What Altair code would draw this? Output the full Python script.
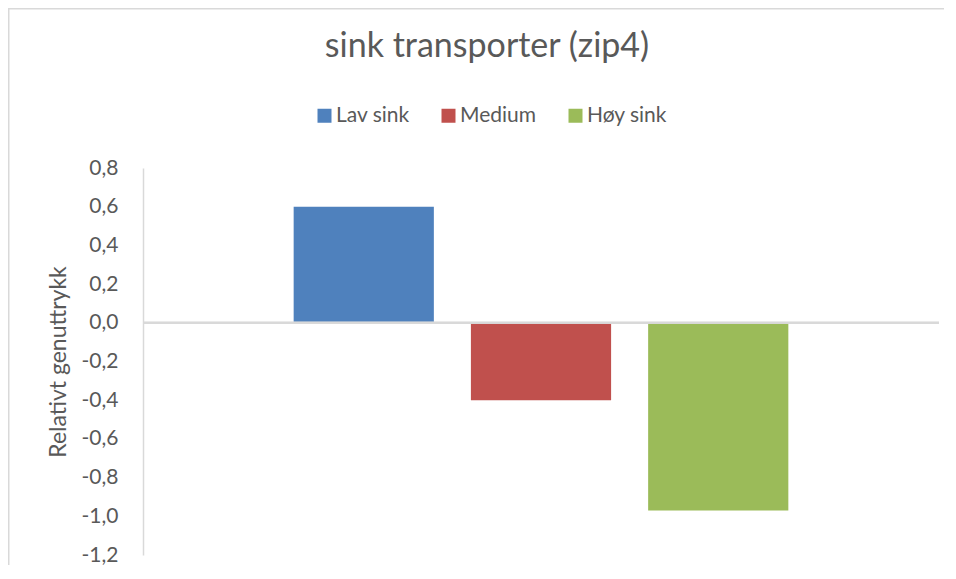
import altair as alt
import pandas as pd

# ---- data ----
series = ["Lav sink", "Medium", "Høy sink"]
values = [0.60, -0.40, -0.97]
colors = ["#4F81BD", "#C0504D", "#9BBB59"]
y_ticks = [-1.2, -1.0, -0.8, -0.6, -0.4, -0.2, 0.0, 0.2, 0.4, 0.6, 0.8]
y_domain = [-1.2, 0.8]
title_text = "sink transporter (zip4)"
y_title = "Relativt genuttrykk"

FONT = "Lato"
TXT = "#595959"
LINE = "#D9D9D9"

df = pd.DataFrame({"serie": series, "verdi": values})
one = pd.DataFrame({"k": [0]})

label_expr = "replace(replace(format(datum.value, '.1f'), '.', ','), '\u2212', '-')"

bars = alt.Chart(df).mark_bar().encode(
    x=alt.X("serie:N", sort=series,
            scale=alt.Scale(domain=series, paddingInner=0.209, paddingOuter=0.85),
            axis=None),
    y=alt.Y("verdi:Q",
            scale=alt.Scale(domain=y_domain, nice=False),
            axis=alt.Axis(values=y_ticks, tickCount=len(y_ticks), labelExpr=label_expr,
                          title=y_title, labelOverlap=False,
                          grid=False, ticks=False, tickSize=0, domain=True,
                          domainColor=LINE, domainWidth=1.5, labelPadding=25,
                          labelFontSize=21, labelColor=TXT, labelFont=FONT,
                          titleFont=FONT, titleFontSize=23, titleColor=TXT,
                          titleFontWeight="normal", titlePadding=11)),
    color=alt.Color("serie:N",
                    scale=alt.Scale(domain=series, range=colors),
                    legend=alt.Legend(title=None, orient="none", legendX=171, legendY=-63,
                                      direction="horizontal", columns=3,
                                      symbolType="square", symbolSize=196,
                                      symbolStrokeWidth=0, symbolOpacity=1,
                                      labelFontSize=21, labelFont=FONT, labelColor=TXT,
                                      labelOffset=1, columnPadding=28, padding=0)),
)

zero = alt.Chart(df).mark_rule(color=LINE, strokeWidth=2).encode(y=alt.datum(0))

# chart frame: an unfilled rectangle whose right and bottom edges fall outside the picture
frame = alt.Chart(one).mark_rect(fill="transparent", stroke=LINE, strokeWidth=1.5).encode(
    x=alt.value(-134.25), x2=alt.value(900), y=alt.value(-159.25), y2=alt.value(600))

chart = alt.layer(frame, bars, zero).properties(
    width=796, height=387,
    title=alt.TitleParams(title_text, font=FONT, fontSize=34, color=TXT,
                          fontWeight="normal", anchor="middle", baseline="alphabetic",
                          offset=0, dx=-54, dy=83),
    autosize=alt.AutoSizeParams(type="none"),
    padding={"left": 135, "top": 160, "right": 5, "bottom": 10},
    background="white",
).configure_view(strokeWidth=0)

chart.save("out.html", embed_options={"renderer": "svg", "actions": False})
